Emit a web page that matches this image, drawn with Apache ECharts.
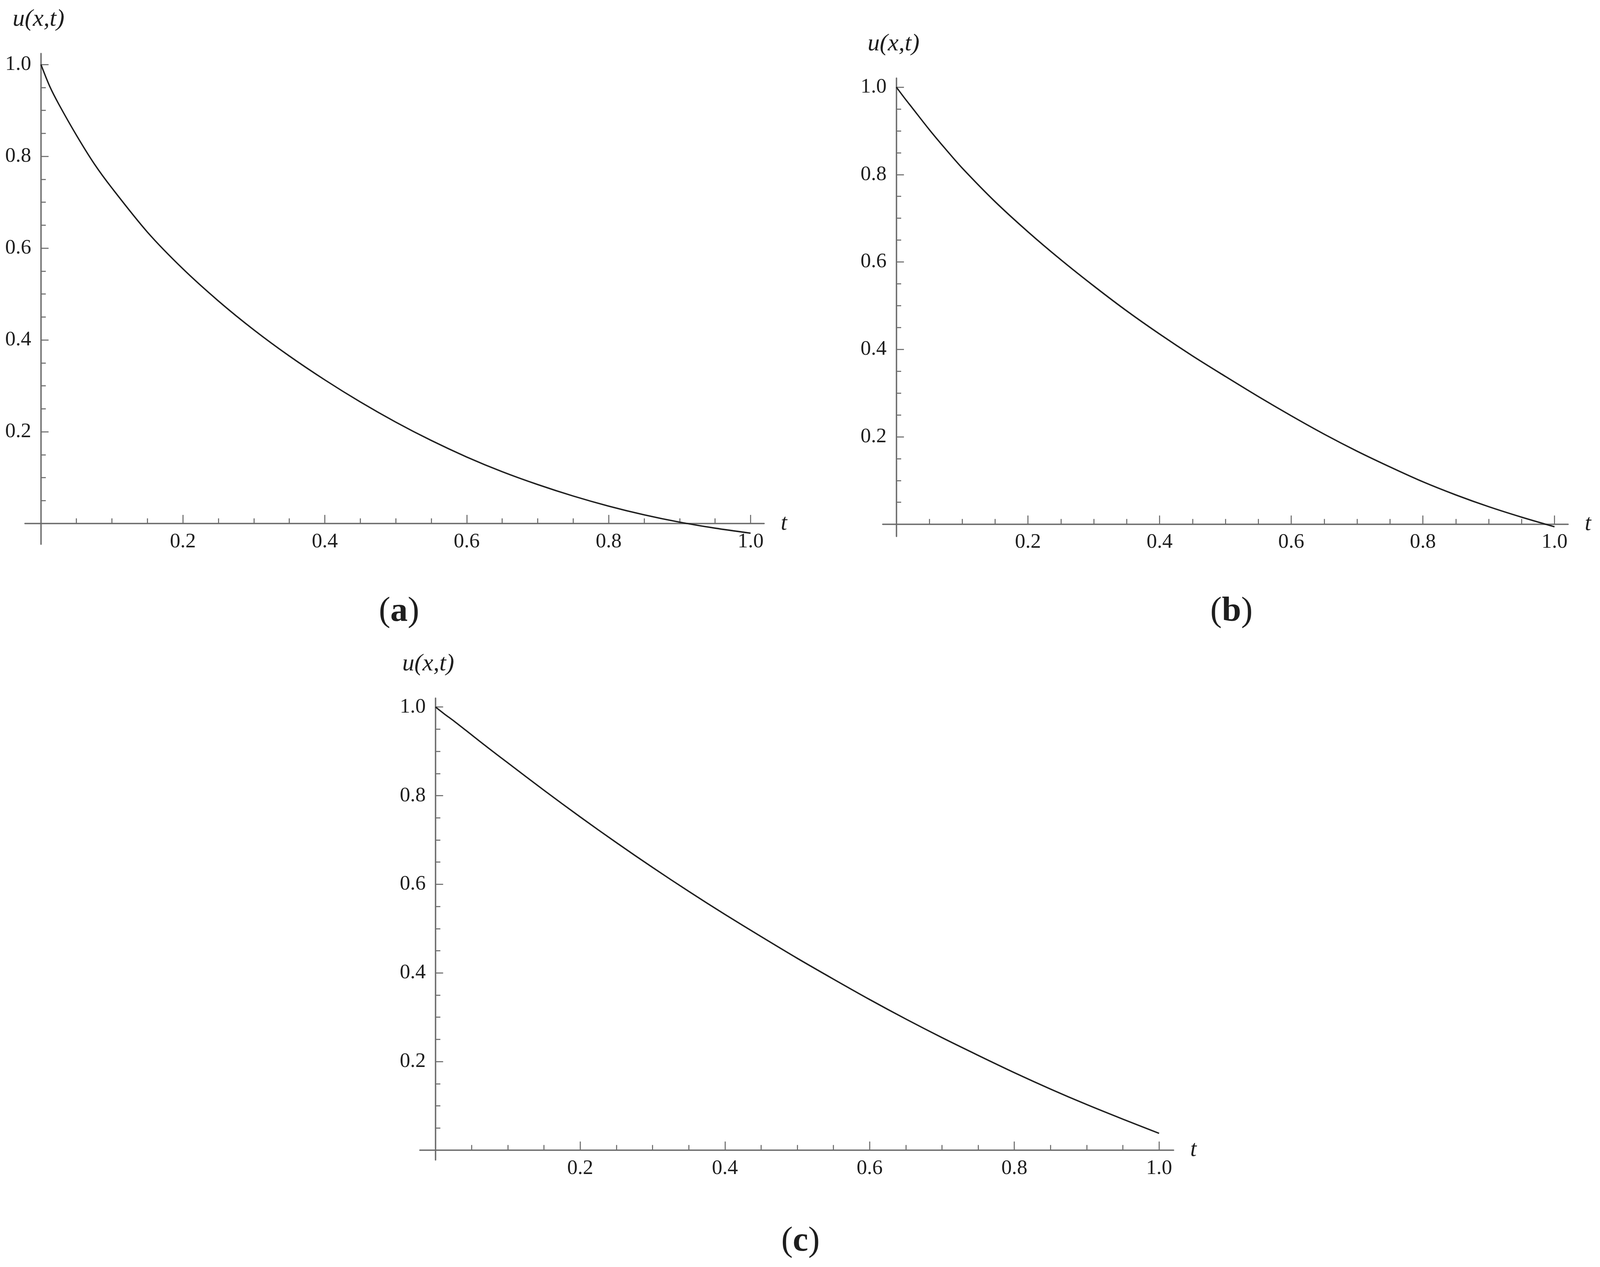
<!DOCTYPE html>
<html>
<head>
<meta charset="utf-8">
<title>u(x,t)</title>
<script src="https://cdn.jsdelivr.net/npm/echarts@6/dist/echarts.min.js"></script>
<style>
  html, body { margin: 0; padding: 0; width: 100%; height: 100%; background: #fff; overflow: hidden; }
  #chart { width: 100vw; height: 100vh; }
</style>
</head>
<body>
<div id="chart"></div>
<script>
// values
var tValues = [0, 0.0125, 0.025, 0.05, 0.075, 0.1, 0.15, 0.2, 0.25, 0.3, 0.35, 0.4,
               0.45, 0.5, 0.55, 0.6, 0.65, 0.7, 0.75, 0.8, 0.85, 0.9, 0.95, 1.0];
var uA = [1.0, 0.952, 0.914, 0.846, 0.784, 0.731, 0.635, 0.555, 0.485, 0.422, 0.365, 0.313,
          0.265, 0.221, 0.181, 0.145, 0.113, 0.085, 0.06, 0.038, 0.019, 0.003, -0.01, -0.021];
var uB = [1.0, 0.975, 0.951, 0.903, 0.858, 0.815, 0.738, 0.669, 0.605, 0.545, 0.488, 0.435,
          0.385, 0.338, 0.292, 0.248, 0.206, 0.167, 0.131, 0.097, 0.067, 0.04, 0.016, -0.006];
var uC = [1.0, 0.984, 0.969, 0.937, 0.905, 0.874, 0.812, 0.752, 0.694, 0.638, 0.584, 0.532,
          0.482, 0.433, 0.386, 0.34, 0.296, 0.254, 0.214, 0.175, 0.138, 0.103, 0.07, 0.038];

var majorTicks = [0.2, 0.4, 0.6, 0.8, 1.0];
var minorTicks = [0.05, 0.1, 0.15, 0.25, 0.3, 0.35, 0.45, 0.5, 0.55, 0.65, 0.7, 0.75, 0.85, 0.9, 0.95];
var panelTags = ['a', 'b', 'c'];

var serif = 'Liberation Serif';
var axisGray = '#6b6b6b';
var ink = '#1e1e1e';

// plot boxes measured on a 4611x3243 page, scaled to the real viewport below.
// axis ranges include the small overhang past 0 and 1 that the axes have
var panels = [
    {box: [72, 137, 2130, 1256], x: [-0.0225, 1.019], y: [-0.045, 1.024], u: uA, tag: [1150, 1566], namePad: 14},
    {box: [2544, 200, 1975, 1173], x: [-0.0206, 1.0206], y: [-0.028, 1.0206], u: uB, tag: [3549, 1566], namePad: 16},
    {box: [1210, 1787, 2172, 1182], x: [-0.0216, 1.02], y: [-0.022, 1.02], u: uC, tag: [2307, 3178], namePad: 42}
];

function fmt(v) {
    return v.toFixed(1);
}

var chart = echarts.init(document.getElementById('chart'));

function build() {
    var sx = chart.getWidth() / 4611;
    var sy = chart.getHeight() / 3243;
    var k = Math.min(sx, sy);

    var grids = [], xAxes = [], yAxes = [], series = [], graphics = [];

    panels.forEach(function (p, i) {
        var main = 2 * i;
        var w = p.box[2] * sx, h = p.box[3] * sy;
        grids.push({
            left: p.box[0] * sx, top: p.box[1] * sy, width: w, height: h,
            containLabel: false, outerBoundsMode: 'none'
        });

        // onZero axes keep their labels at the grid edge, so pull them back to the axis line
        var belowZero = h * (-p.y[0]) / (p.y[1] - p.y[0]);
        var leftOfZero = w * (-p.x[0]) / (p.x[1] - p.x[0]);

        // main x axis: line, long ticks, labels
        xAxes.push({
            type: 'value', gridIndex: i, min: p.x[0], max: p.x[1], position: 'bottom',
            axisLine: {onZero: true, onZeroAxisIndex: main, lineStyle: {color: axisGray, width: 4 * k}},
            axisTick: {inside: true, length: 25 * k, customValues: majorTicks,
                lineStyle: {color: axisGray, width: 3 * k}},
            axisLabel: {customValues: majorTicks, margin: 20 * sy - belowZero, formatter: fmt,
                fontFamily: serif, fontSize: 60 * k, color: ink},
            splitLine: {show: false},
            name: 't', nameLocation: 'end', nameGap: 48 * sx,
            nameTextStyle: {fontFamily: serif, fontStyle: 'italic', fontSize: 66 * k, color: ink}
        });
        // minor x ticks
        xAxes.push({
            type: 'value', gridIndex: i, min: p.x[0], max: p.x[1], position: 'bottom',
            axisLine: {show: false, onZero: true, onZeroAxisIndex: main},
            axisTick: {inside: true, length: 15 * k, customValues: minorTicks,
                lineStyle: {color: axisGray, width: 3 * k}},
            axisLabel: {show: false},
            splitLine: {show: false}
        });

        yAxes.push({
            type: 'value', gridIndex: i, min: p.y[0], max: p.y[1], position: 'left',
            axisLine: {onZero: true, onZeroAxisIndex: main, lineStyle: {color: axisGray, width: 4 * k}},
            axisTick: {inside: true, length: 22 * k, customValues: majorTicks,
                lineStyle: {color: axisGray, width: 3 * k}},
            axisLabel: {customValues: majorTicks, margin: 28 * sx - leftOfZero, formatter: fmt,
                fontFamily: serif, fontSize: 60 * k, color: ink},
            splitLine: {show: false},
            name: 'u(x,t)', nameLocation: 'end', nameGap: 56 * sy,
            nameTextStyle: {fontFamily: serif, fontStyle: 'italic', fontSize: 70 * k, color: ink,
                padding: [0, p.namePad * sx, 0, 0]}
        });
        yAxes.push({
            type: 'value', gridIndex: i, min: p.y[0], max: p.y[1], position: 'left',
            axisLine: {show: false, onZero: true, onZeroAxisIndex: main},
            axisTick: {inside: true, length: 14 * k, customValues: minorTicks,
                lineStyle: {color: axisGray, width: 3 * k}},
            axisLabel: {show: false},
            splitLine: {show: false}
        });

        series.push({
            type: 'line',
            xAxisIndex: main,
            yAxisIndex: main,
            data: tValues.map(function (t, j) { return [t, p.u[j]]; }),
            smooth: 0.3,
            showSymbol: false,
            lineStyle: {color: ink, width: 4 * k},
            silent: true
        });

        graphics.push({
            type: 'text',
            x: p.tag[0] * sx,
            y: p.tag[1] * sy,
            style: {
                text: '{p|(}{b|' + panelTags[i] + '}{p|)}',
                align: 'center',
                verticalAlign: 'middle',
                fill: ink,
                rich: {
                    p: {fontFamily: serif, fontSize: 100 * k, fill: ink},
                    b: {fontFamily: serif, fontSize: 100 * k, fontWeight: 'bold', fill: ink}
                }
            }
        });
    });

    chart.setOption({
        backgroundColor: '#fff',
        animation: false,
        grid: grids,
        xAxis: xAxes,
        yAxis: yAxes,
        series: series,
        graphic: graphics
    }, true);
}

build();
</script>
</body>
</html>
